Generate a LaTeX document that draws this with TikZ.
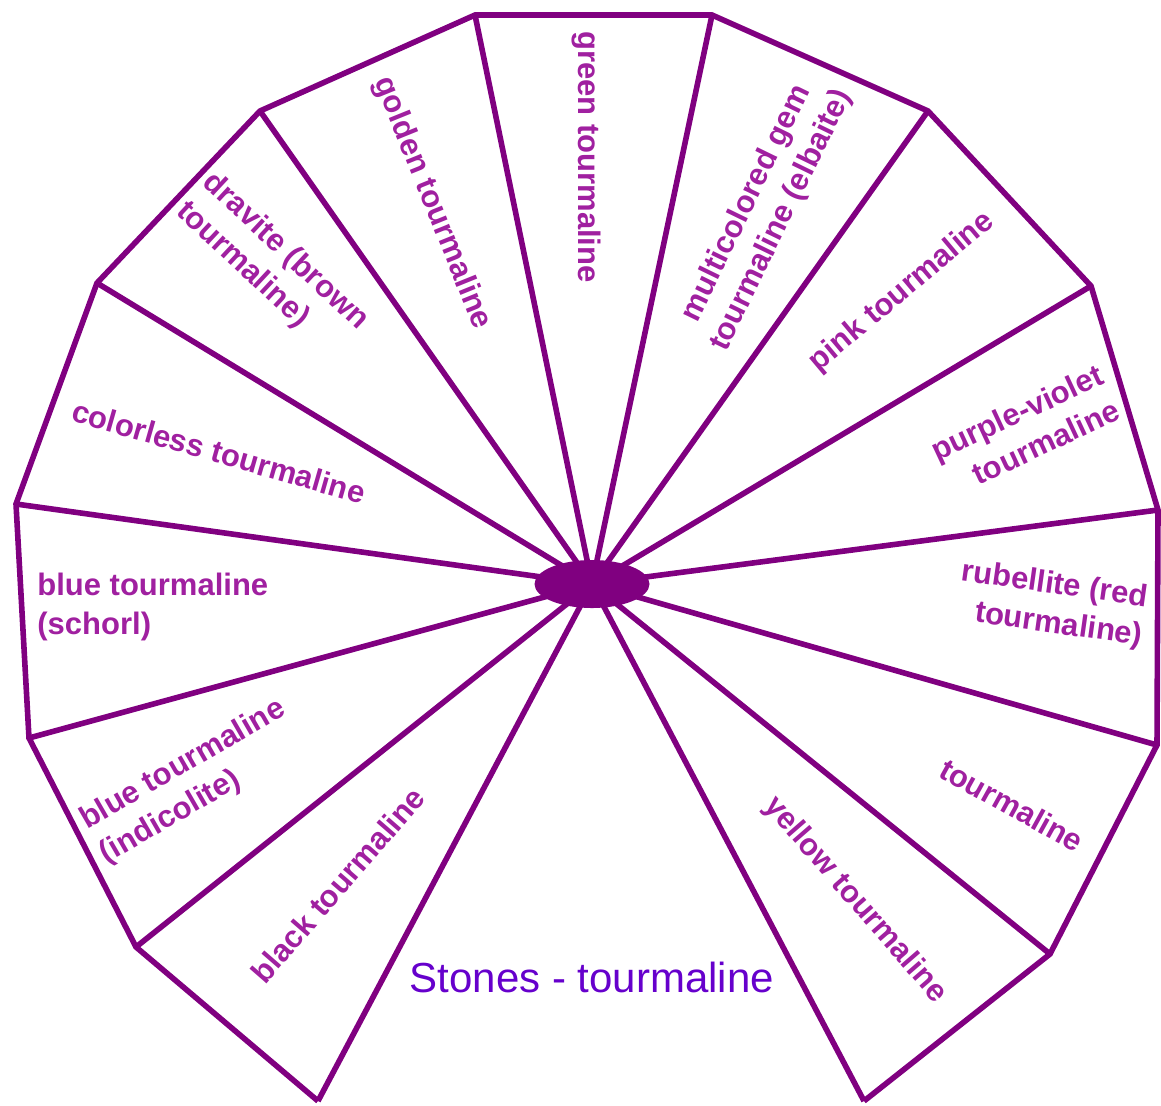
\documentclass[tikz,border=0pt]{standalone}
\usepackage{fontspec}
\setmainfont{Liberation Sans}
\definecolor{rimcol}{RGB}{128,0,128}
\definecolor{gemcol}{RGB}{160,32,160}
\definecolor{titlecol}{RGB}{102,0,204}

\begin{document}
\begin{tikzpicture}[x=0.5pt,y=-0.5pt,
  rim/.style={draw=rimcol,line width=2.8pt,line join=miter},
  gem/.style={text=gemcol,font=\bfseries\fontsize{15.5}{19.5}\selectfont,inner sep=0pt}]
\useasboundingbox (0,0) rectangle (1161,1105);
\coordinate (v1) at (318,1101);
\coordinate (v2) at (136,947);
\coordinate (v3) at (29,738);
\coordinate (v4) at (16,504);
\coordinate (v5) at (97,283);
\coordinate (v6) at (260,111);
\coordinate (v7) at (475,15);
\coordinate (v8) at (712,15);
\coordinate (v9) at (928,111);
\coordinate (v10) at (1091,286);
\coordinate (v11) at (1158,510);
\coordinate (v12) at (1157,745);
\coordinate (v13) at (1050,954);
\coordinate (v14) at (864,1101);
\coordinate (hub) at (592,584);
\draw[rim] (v1) -- (v2) -- (v3) -- (v4) -- (v5) -- (v6) -- (v7) -- (v8) -- (v9) -- (v10) -- (v11) -- (v12) -- (v13) -- (v14);
\foreach \v in {1,...,14}
  \draw[rim] (hub) -- (v\v);
\fill[rimcol] (hub) ellipse [x radius=28.75pt, y radius=12pt];
\node[gem,rotate=-90] (green) at (586,157) {green tourmaline};
\node[gem,rotate=-68] (golden) at (432,203) {golden tourmaline};
\node[gem,rotate=-43,align=left] (dravite) at (272,266) {dravite (brown\\tourmaline)};
\node[gem,rotate=-16] (colorless) at (219,452) {colorless tourmaline};
\node[gem,anchor=west,align=left] (schorl) at (37,607) {blue tourmaline\\(schorl)};
\node[gem,rotate=30,align=left] (indicolite) at (193,782) {blue tourmaline\\(indicolite)};
\node[gem,rotate=49] (black) at (338,885) {black tourmaline};
\node[gem,rotate=-49] (yellow) at (855,900) {yellow tourmaline};
\node[gem,rotate=-29] (plain) at (1012,805) {tourmaline};
\node[gem,rotate=-8,align=right] (rubellite) at (1052,605) {rubellite (red\\tourmaline)};
\node[gem,rotate=25,align=right] (purple) at (1025,430) {purple-violet\\tourmaline};
\node[gem,rotate=40] (pink) at (902,292) {pink tourmaline};
\node[gem,rotate=64,align=center] (elbaite) at (764,212) {multicolored gem\\tourmaline (elbaite)};
\node[text=titlecol,font=\fontsize{21}{25}\selectfont,inner sep=0pt] (title) at (592,977) {Stones - tourmaline};
\end{tikzpicture}
\end{document}
